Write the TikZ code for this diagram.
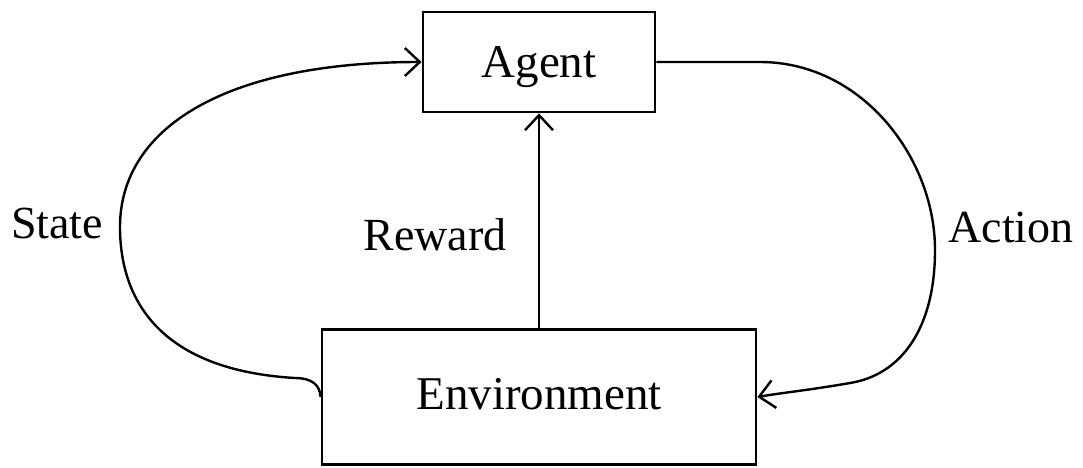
\documentclass[tikz,border=0pt]{standalone}
\usepackage{fontspec}
\setmainfont{Liberation Serif}
\usetikzlibrary{arrows.meta}
\begin{document}
\begin{tikzpicture}[x=1pt,y=-1pt,
  box/.style={draw, line width=2.8pt, inner sep=0pt, font=\fontsize{47}{52}\selectfont},
  lbl/.style={anchor=base, inner sep=0pt, font=\fontsize{46}{50}\selectfont},
  conn/.style={line width=2.4pt, -{Straight Barb[length=15pt,width=28pt,line width=2.4pt]}}]
\useasboundingbox (0,0) rectangle (1083,467);
\node[box, minimum width=232pt, minimum height=100pt, text height=35pt, text depth=5pt] (agent) at (539,62) {Agent};
\node[box, minimum width=434pt, minimum height=135pt, text height=30pt, text depth=5pt] (env) at (539,397) {Environment};
\node[lbl] (state) at (57,238) {State};
\node[lbl] (action) at (1011,242) {Action};
\node[lbl] (reward) at (435,250) {Reward};
\draw[conn] (env.north) -- (agent.south);
\draw[conn] (env.west) .. controls (320,385) and (312,378) .. (295,378)
  .. controls (160,370) and (120,300) .. (120,227)
  .. controls (120,128) and (225,62) .. (agent.west);
\coordinate (a1) at (760,62);
\draw[conn] (agent.east) -- (a1) .. controls (862,62) and (935,158) .. (935,250)
  .. controls (935,330) and (900,375) .. (850,383)
  .. controls (810,390) and (780,393) .. (env.east);
\end{tikzpicture}
\end{document}
